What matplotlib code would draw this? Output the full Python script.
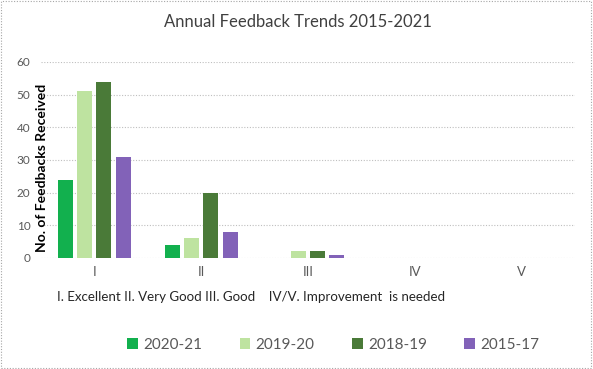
import matplotlib
matplotlib.use("Agg")
import matplotlib.pyplot as plt
import numpy as np
from matplotlib.patches import Rectangle

categories = ["I", "II", "III", "IV", "V"]
series_names = ["2020-21", "2019-20", "2018-19", "2015-17"]
v_2020_21 = [24, 4, 0, 0, 0]
v_2019_20 = [51, 6, 2, 0, 0]
v_2018_19 = [54, 20, 2, 0, 0]
v_2015_17 = [31, 8, 1, 0, 0]
colors = ["#12B04E", "#BEE3A0", "#4A7A38", "#8262B8"]

plt.rcParams['font.family'] = ['Lato', 'DejaVu Sans']

fig = plt.figure(figsize=(5.93, 3.69), dpi=100)
ax = fig.add_axes([0.069, 0.301, 0.901, 0.531])

x = np.arange(len(categories))
w = 0.14
step = 0.18
data = [v_2020_21, v_2019_20, v_2018_19, v_2015_17]
for i, (vals, name, c) in enumerate(zip(data, series_names, colors)):
    ax.bar(x + (i - 1.5) * step, vals, width=w, color=c, label=name, zorder=3)

ax.set_xlim(-0.5, 4.5)
ax.set_ylim(0, 60)
ax.set_yticks(range(0, 61, 10))
ax.yaxis.grid(True, linestyle=(0, (1, 1.5)), color="#BFBFBF", linewidth=0.8, zorder=0)
for s in ax.spines.values():
    s.set_visible(False)
ax.tick_params(axis="both", length=0, colors="#595959", labelsize=8.5)
ax.tick_params(axis="y", pad=7.5)
ax.set_xticks(x)
ax.set_xticklabels(categories, fontsize=9.5)
ax.tick_params(axis="x", pad=6)
ax.set_ylabel("No. of Feedbacks Received", fontsize=10, fontweight="bold", color="#000000")
ax.yaxis.set_label_coords(0.014, 0.46)

fig.text(0.503, 0.94, "Annual Feedback Trends 2015-2021", ha="center", va="center",
         fontsize=12, color="#404040")
fig.text(0.096, 0.195, "I. Excellent II. Very Good III. Good    IV/V. Improvement  is needed",
         ha="left", va="center", fontsize=9.6, color="#262626")

leg = fig.legend(loc="center", bbox_to_anchor=(0.562, 0.065), ncol=4, frameon=False,
                 fontsize=11, handlelength=0.7, handleheight=0.7, handletextpad=0.35,
                 columnspacing=2.45)
for t in leg.get_texts():
    t.set_color("#595959")

fig.patches.append(Rectangle((0.002, 0.003), 0.994, 0.994, transform=fig.transFigure,
                             fill=False, edgecolor="#A6A6A6", linewidth=0.8,
                             linestyle=(0, (1, 1.5))))

fig.savefig("out.png", dpi=100)
